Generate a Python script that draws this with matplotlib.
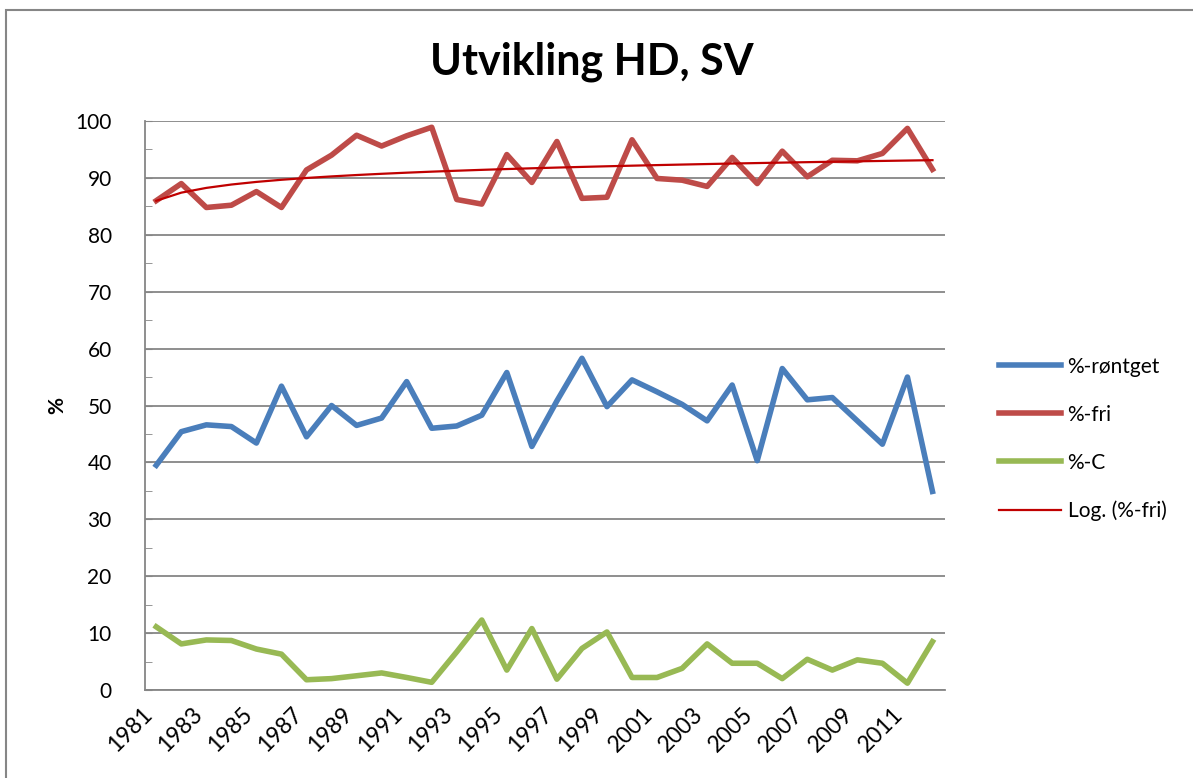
import numpy as np
import matplotlib.pyplot as plt
import matplotlib.transforms as mtransforms
from matplotlib.patches import Rectangle

plt.rcParams['font.family'] = ['Lato', 'DejaVu Sans']

years = list(range(1981, 2013))

rontget = [39.5, 45.4, 46.6, 46.3, 43.4, 53.4, 44.5, 50.0, 46.5, 47.8,
           54.2, 46.0, 46.4, 48.3, 55.8, 42.8, 50.8, 58.3, 49.8, 54.5,
           52.4, 50.2, 47.3, 53.6, 40.3, 56.5, 51.0, 51.4, 47.3, 43.2,
           55.0, 34.9]

fri = [86.0, 89.0, 84.8, 85.2, 87.6, 84.8, 91.4, 94.0, 97.5, 95.6,
       97.4, 98.9, 86.2, 85.4, 94.1, 89.2, 96.4, 86.4, 86.6, 96.7,
       89.9, 89.6, 88.5, 93.6, 89.0, 94.7, 90.2, 93.1, 93.0, 94.3,
       98.7, 91.5]

c_grade = [11.1, 8.1, 8.8, 8.7, 7.2, 6.3, 1.8, 2.0, 2.5, 3.0,
           2.2, 1.35, 6.7, 12.3, 3.5, 10.8, 1.9, 7.3, 10.2, 2.2,
           2.2, 3.8, 8.1, 4.7, 4.7, 2.0, 5.4, 3.5, 5.3, 4.7,
           1.2, 8.5]

labels = ['%-røntget', '%-fri', '%-C', 'Log. (%-fri)']

# logarithmic trend of %-fri, as Excel fits it (x = 1..n)
idx = np.arange(1, len(years) + 1)
a, b = np.polyfit(np.log(idx), fri, 1)
trend = a * np.log(idx) + b

fig = plt.figure(figsize=(11.93, 7.78), dpi=100)
ax = fig.add_axes([145 / 1193, 1 - 690 / 778, 800 / 1193, 569 / 778])

x = np.arange(len(years))
ax.plot(x, rontget, color='#4A7EBB', lw=4, solid_joinstyle='round', label=labels[0])
ax.plot(x, fri, color='#BE4B48', lw=4, solid_joinstyle='round', label=labels[1])
ax.plot(x, c_grade, color='#98B954', lw=4, solid_joinstyle='round', label=labels[2])
ax.plot(x, trend, color='#C00000', lw=1.6, label=labels[3])

ax.set_xlim(-0.45, 31.5)
ax.set_ylim(0, 100)
ax.set_yticks(range(0, 101, 10))
ax.set_yticks(range(5, 100, 10), minor=True)
ax.tick_params(axis='y', which='both', direction='in', length=5, color='#868686',
               labelsize=15, pad=24)
ax.yaxis.grid(True, color='#868686', lw=1.3)
ax.set_axisbelow(True)

# year labels, every second one, slanted like Excel does it
ax.set_xticks(x[::2])
ax.set_xticklabels([])
ax.tick_params(axis='x', length=0)
offset = mtransforms.ScaledTranslation(-15 / 100, -14 / 100, fig.dpi_scale_trans)
for xi, yr in zip(x[::2], years[::2]):
    ax.text(xi, 0, str(yr), transform=ax.get_xaxis_transform() + offset,
            rotation=45, ha='right', va='top', rotation_mode='anchor', fontsize=16.5)

for side in ['top', 'right']:
    ax.spines[side].set_visible(False)
for side in ['left', 'bottom']:
    ax.spines[side].set_color('#868686')
    ax.spines[side].set_linewidth(1.3)

ax.set_ylabel('%', fontsize=15, fontweight='bold', labelpad=6)
fig.text(592 / 1193, 1 - 62 / 778, 'Utvikling HD, SV', fontsize=31, fontweight='bold',
         ha='center', va='center')

leg = ax.legend(loc='center left', bbox_to_anchor=(980 / 1193, 1 - 439 / 778),
                bbox_transform=fig.transFigure, frameon=False, fontsize=15,
                handlelength=3.0, handletextpad=0.3, labelspacing=1.35)

fig.patches.append(Rectangle((6 / 1193, -0.1), 1.2, 1 - 10 / 778 + 0.1,
                             transform=fig.transFigure, fill=False,
                             edgecolor='#868686', lw=1.5))

fig.savefig('out.png', dpi=100)
